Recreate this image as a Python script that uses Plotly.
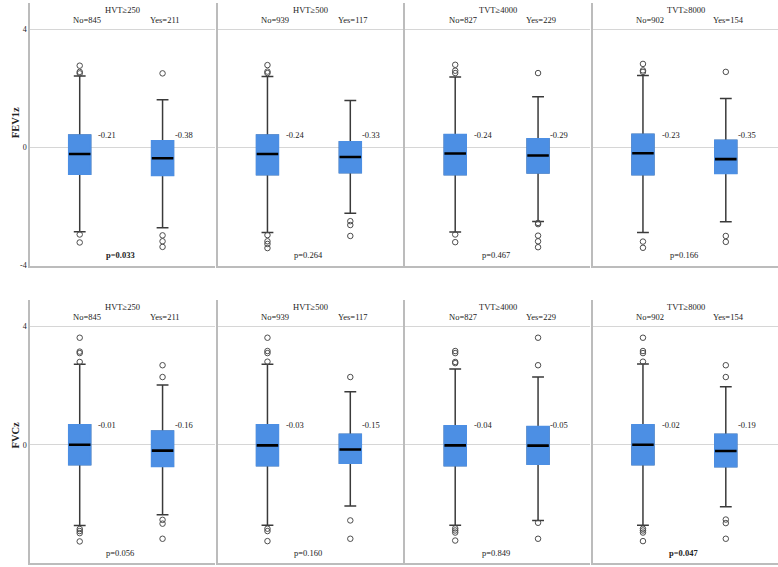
import plotly.graph_objects as go
from plotly.subplots import make_subplots

# groups / counts
GROUPS = ["HVT≥250", "HVT≥500", "TVT≥4000", "TVT≥8000"]
N_NO = [845, 939, 827, 902]
N_YES = [211, 117, 229, 154]
CATS = ["No", "Yes"]

# FEV1z, each entry is (No, Yes)
FEV1_Q1 = [(-0.90, -0.95), (-0.92, -0.85), (-0.92, -0.86), (-0.92, -0.88)]
FEV1_MED = [(-0.23, -0.37), (-0.23, -0.33), (-0.21, -0.28), (-0.20, -0.40)]
FEV1_Q3 = [(0.41, 0.21), (0.41, 0.18), (0.42, 0.28), (0.43, 0.23)]
FEV1_LO = [(-2.86, -2.72), (-2.88, -2.23), (-2.87, -2.51), (-2.88, -2.52)]
FEV1_HI = [(2.41, 1.61), (2.39, 1.58), (2.38, 1.71), (2.43, 1.65)]
FEV1_OUT_NO = [
    [2.76, 2.55, 2.50, -2.95, -3.22],
    [2.78, 2.56, 2.51, -2.97, -3.18, -3.27, -3.41],
    [2.79, 2.59, 2.51, -2.95, -3.21],
    [2.82, 2.60, 2.55, -3.19, -3.40],
]
FEV1_OUT_YES = [
    [2.50, -2.98, -3.18, -3.37],
    [-2.50, -2.63, -3.00],
    [2.51, -2.56, -2.60, -2.99, -3.18, -3.38],
    [2.55, -3.00, -3.20],
]
FEV1_MEAN = [("-0.21", "-0.38"), ("-0.24", "-0.33"), ("-0.24", "-0.29"), ("-0.23", "-0.35")]
FEV1_P = [0.033, 0.264, 0.467, 0.166]

# FVCz, each entry is (No, Yes)
FVC_Q1 = [(-0.67, -0.73), (-0.70, -0.62), (-0.70, -0.65), (-0.67, -0.74)]
FVC_MED = [(0.00, -0.20), (-0.02, -0.16), (-0.02, -0.03), (0.00, -0.21)]
FVC_Q3 = [(0.67, 0.46), (0.67, 0.35), (0.63, 0.61), (0.67, 0.35)]
FVC_LO = [(-2.73, -2.37), (-2.72, -2.07), (-2.72, -2.56), (-2.72, -2.10)]
FVC_HI = [(2.72, 2.02), (2.72, 1.79), (2.56, 2.29), (2.73, 1.96)]
FVC_OUT_NO = [
    [3.62, 3.15, 3.10, 2.80, -2.85, -2.92, -2.99, -3.27],
    [3.62, 3.17, 3.10, 2.81, -2.84, -2.92, -3.26],
    [3.17, 3.10, 2.80, 2.76, -2.83, -2.90, -2.97, -3.24],
    [3.62, 3.17, 3.10, 2.81, -2.84, -2.90, -2.97, -3.26],
]
FVC_OUT_YES = [
    [2.69, 2.29, -2.54, -2.67, -3.18],
    [2.29, -2.56, -3.18],
    [3.62, 2.69, -2.64, -3.18],
    [2.69, 2.29, -2.53, -2.65, -3.18],
]
FVC_MEAN = [("-0.01", "-0.16"), ("-0.03", "-0.15"), ("-0.04", "-0.05"), ("-0.02", "-0.19")]
FVC_P = [0.056, 0.160, 0.849, 0.047]

BLUE = "#4c8fe4"
DARK = "#3a3a3a"
AXIS = "#bcbcbc"
GRID = "#d6d6d6"
FONT = "Liberation Serif"
BW = 0.26

rows = [
    ("FEV1z", FEV1_Q1, FEV1_MED, FEV1_Q3, FEV1_LO, FEV1_HI, FEV1_OUT_NO, FEV1_OUT_YES, FEV1_MEAN, FEV1_P, 0.42, 0.84),
    ("FVCz", FVC_Q1, FVC_MED, FVC_Q3, FVC_LO, FVC_HI, FVC_OUT_NO, FVC_OUT_YES, FVC_MEAN, FVC_P, 0.66, 0.34),
]

fig = make_subplots(rows=2, cols=4, horizontal_spacing=0.004, vertical_spacing=0.0624)

for r, (name, q1, med, q3, lo, hi, out_no, out_yes, means, pvals, lab_y, title_y) in enumerate(rows, start=1):
    for c in range(4):
        # whiskers + caps
        fig.add_trace(go.Box(
            x=CATS, q1=list(q1[c]), median=list(med[c]), q3=list(q3[c]),
            lowerfence=list(lo[c]), upperfence=list(hi[c]),
            width=BW, whiskerwidth=0.55, boxpoints=False,
            line=dict(color=DARK, width=1.5), fillcolor=BLUE,
            hoverinfo="skip", showlegend=False), row=r, col=c + 1)
        # blue body over the dark outline
        fig.add_trace(go.Box(
            x=CATS, q1=list(q1[c]), median=list(q1[c]), q3=list(q3[c]),
            lowerfence=list(q1[c]), upperfence=list(q3[c]),
            width=BW, whiskerwidth=0, boxpoints=False,
            line=dict(color=BLUE, width=2), fillcolor=BLUE,
            hoverinfo="skip", showlegend=False), row=r, col=c + 1)
        # median bar
        fig.add_trace(go.Box(
            x=CATS, q1=list(med[c]), median=list(med[c]), q3=list(med[c]),
            lowerfence=list(med[c]), upperfence=list(med[c]),
            width=BW, whiskerwidth=0, boxpoints=False,
            line=dict(color="black", width=2.6), fillcolor="black",
            hoverinfo="skip", showlegend=False), row=r, col=c + 1)
        # outliers
        fig.add_trace(go.Scatter(
            x=["No"] * len(out_no[c]) + ["Yes"] * len(out_yes[c]),
            y=out_no[c] + out_yes[c], mode="markers",
            marker=dict(symbol="circle-open", size=5.5, color="#4d4d4d", line=dict(width=1)),
            hoverinfo="skip", showlegend=False), row=r, col=c + 1)

        tf = dict(family=FONT, size=8.5, color="#222")
        fig.add_annotation(x=0.515, y=4.66, text=GROUPS[c], showarrow=False, font=tf, row=r, col=c + 1)
        fig.add_annotation(x=0.09, y=4.31, text=f"No={N_NO[c]}", showarrow=False, font=tf, row=r, col=c + 1)
        fig.add_annotation(x=1.03, y=4.31, text=f"Yes={N_YES[c]}", showarrow=False, font=tf, row=r, col=c + 1)
        fig.add_annotation(x=0.2, y=lab_y, text=means[c][0], showarrow=False, xanchor="left", font=tf, row=r, col=c + 1)
        fig.add_annotation(x=1.12, y=lab_y, text=means[c][1], showarrow=False, xanchor="left", font=tf, row=r, col=c + 1)
        p = pvals[c]
        ptxt = f"p={p:.3f}"
        if p < 0.05:
            ptxt = f"<b>{ptxt}</b>"
        fig.add_annotation(x=0.49, y=-3.66, text=ptxt, showarrow=False, font=tf, row=r, col=c + 1)

    yref = "y" if r == 1 else "y5"
    fig.add_annotation(xref="paper", yref=yref, x=-0.029, y=title_y, text=f"<b>{name}</b>",
                       textangle=-90, showarrow=False, font=dict(family=FONT, size=10.5, color="#222"))

fig.update_xaxes(type="category", categoryorder="array", categoryarray=CATS,
                 range=[-0.6, 1.63], showticklabels=False, showgrid=False, zeroline=False,
                 showline=True, linecolor=AXIS, linewidth=1.5, ticks="")
fig.update_yaxes(range=[-4, 4.88], tickvals=[-4, 0, 4], ticktext=["-4", "0", "4"],
                 showticklabels=False, showgrid=True, gridcolor=GRID, gridwidth=1, zeroline=False,
                 showline=True, linecolor=AXIS, linewidth=1.5, ticks="")
for r in (1, 2):
    fig.update_yaxes(showticklabels=True, tickfont=dict(family=FONT, size=8, color="#222"),
                     row=r, col=1)

fig.update_layout(
    width=778, height=567,
    margin=dict(l=30, r=0, t=3, b=4),
    boxmode="overlay",
    plot_bgcolor="white", paper_bgcolor="white",
    showlegend=False,
)

# page has a default 8px body margin; drop it so the figure sits at 0,0
fig.write_html("out.html", config={"displayModeBar": False},
               post_script="document.body.style.margin='0px';")
